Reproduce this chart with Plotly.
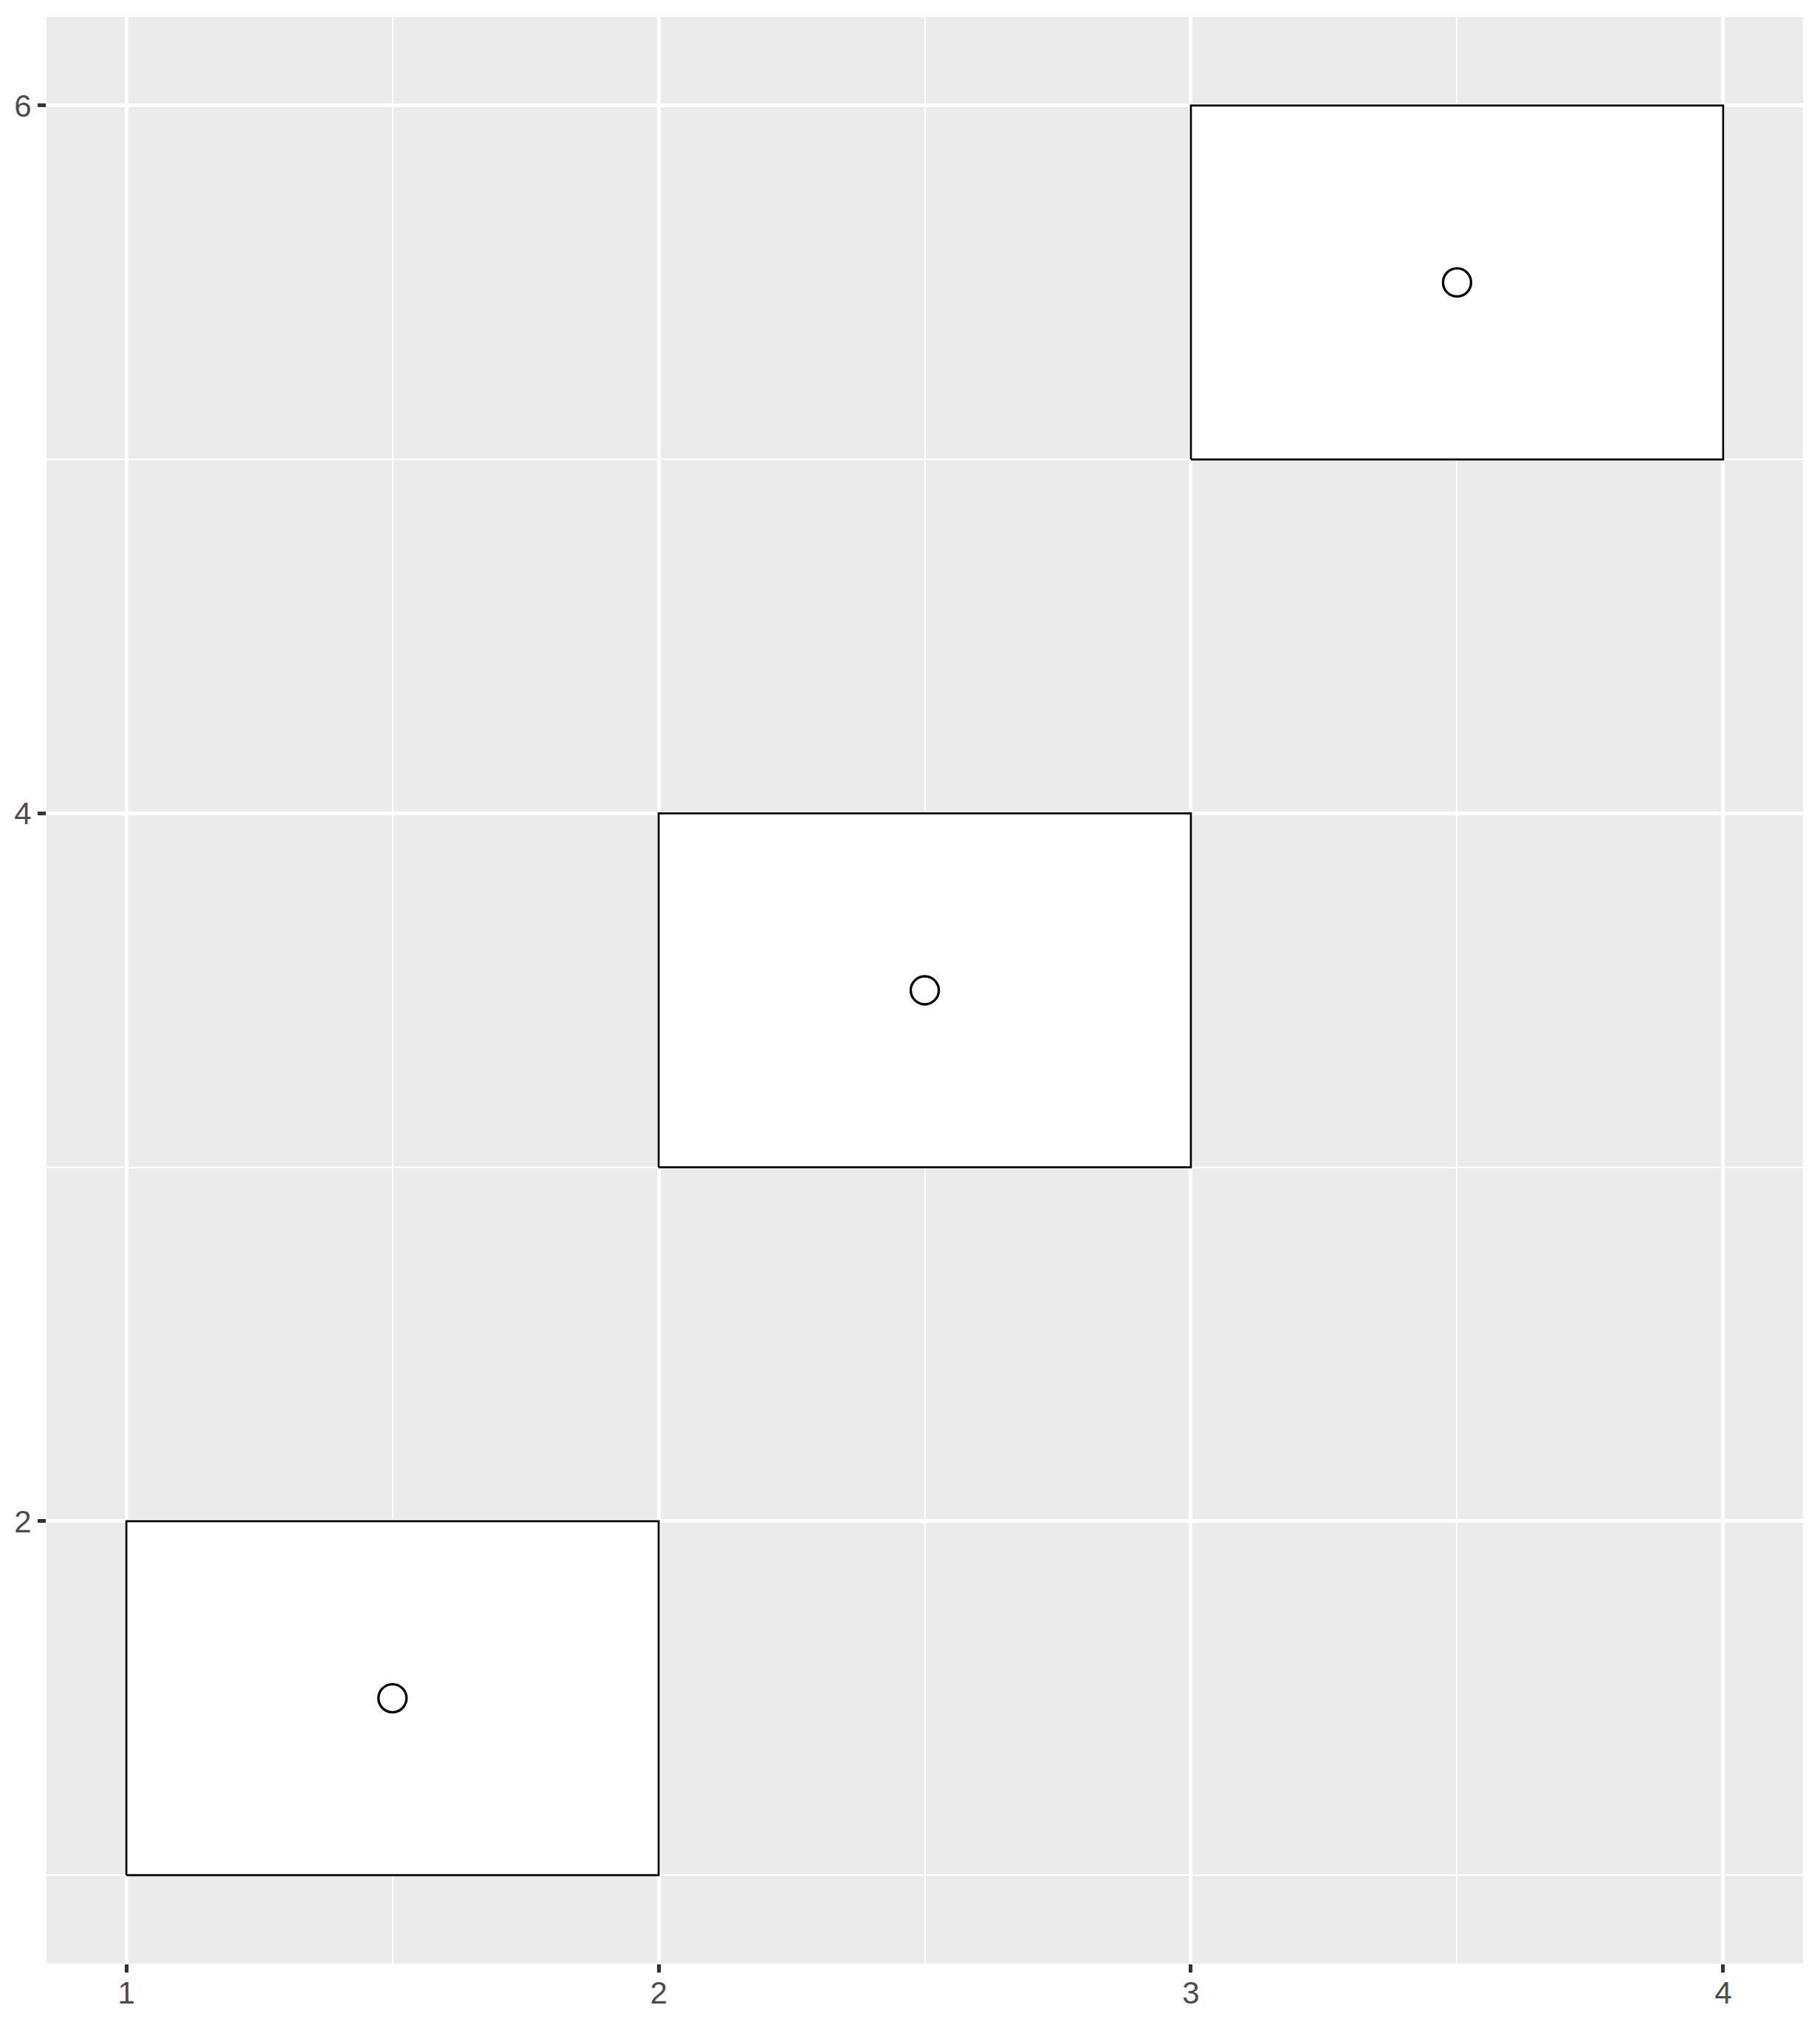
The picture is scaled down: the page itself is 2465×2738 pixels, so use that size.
import plotly.graph_objects as go

# Data
xmin = [1, 2, 3]
xmax = [2, 3, 4]
ymin = [1, 3, 5]
ymax = [2, 4, 6]
px = [1.5, 2.5, 3.5]
py = [1.5, 3.5, 5.5]
xticks = [1, 2, 3, 4]
yticks = [2, 4, 6]

fig = go.Figure()
for a, b, c, d in zip(xmin, xmax, ymin, ymax):
    fig.add_trace(go.Scatter(
        x=[a, b, b, a, a], y=[c, c, d, d, c], mode="lines", fill="toself",
        fillcolor="white", line=dict(color="black", width=2.7),
        showlegend=False, hoverinfo="skip"))

fig.add_trace(go.Scatter(
    x=px, y=py, mode="markers",
    marker=dict(symbol="circle-open", size=38, color="black", line=dict(color="black", width=3.3)),
    showlegend=False))

axis_common = dict(
    showgrid=True, gridcolor="white", gridwidth=4.7, zeroline=False,
    showline=False, ticks="outside", ticklen=11, tickwidth=4.5, tickcolor="#333333",
    tickfont=dict(family="Liberation Sans", size=42, color="#4D4D4D"),
    automargin=False,
)

fig.update_layout(
    width=2449, height=2722,
    margin=dict(l=55, r=15, t=15, b=71),
    font=dict(family="Liberation Sans", size=42, color="#4D4D4D"),
    paper_bgcolor="white", plot_bgcolor="#EBEBEB",
    xaxis=dict(range=[0.85, 4.15], tickvals=xticks, ticktext=[str(v) for v in xticks],
               ticklabelstandoff=-8,
               minor=dict(tickvals=[1.5, 2.5, 3.5], showgrid=True, gridcolor="white", gridwidth=2.3, ticks=""),
               **axis_common),
    yaxis=dict(range=[0.75, 6.25], tickvals=yticks, ticktext=[str(v) for v in yticks],
               minor=dict(tickvals=[1, 3, 5], showgrid=True, gridcolor="white", gridwidth=2.3, ticks=""),
               **axis_common),
)

fig.write_html("out.html")
